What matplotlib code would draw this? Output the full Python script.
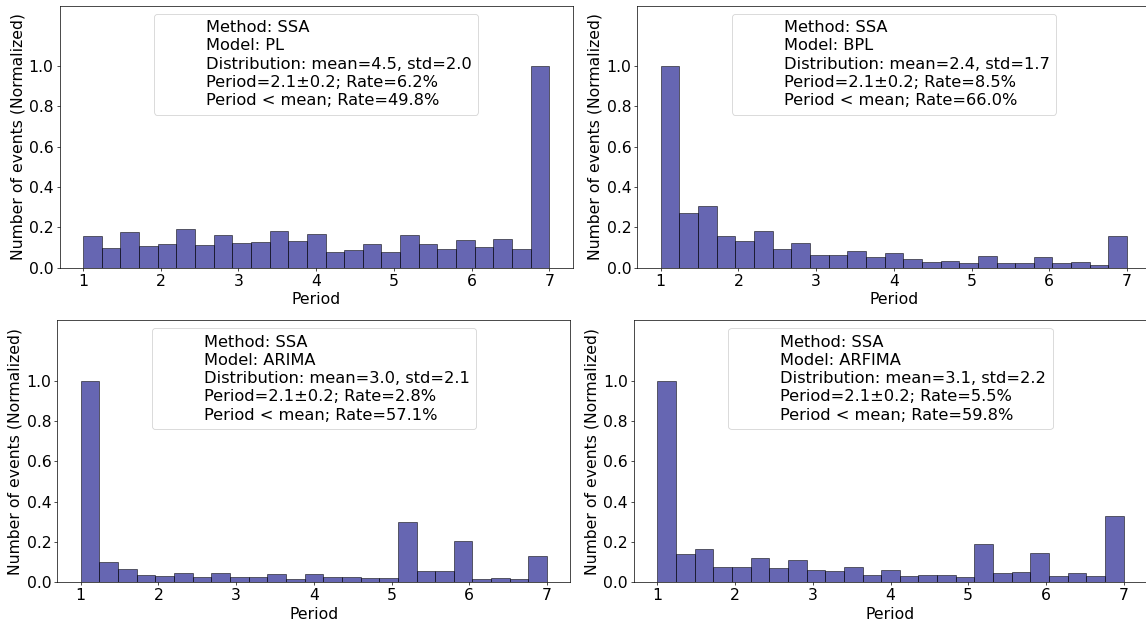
import numpy as np
import matplotlib
matplotlib.use("Agg")
import matplotlib.pyplot as plt
from matplotlib.lines import Line2D

# bin edges of the period histograms (25 bins between 1 and 7)
bin_edges = np.linspace(1, 7, 26)

# normalised counts per bin
pl_counts = [0.155, 0.099, 0.175, 0.109, 0.117, 0.193, 0.112, 0.164, 0.124, 0.126,
             0.182, 0.131, 0.167, 0.079, 0.088, 0.116, 0.079, 0.160, 0.117, 0.093,
             0.139, 0.102, 0.140, 0.094, 1.0]
bpl_counts = [1.0, 0.273, 0.306, 0.155, 0.132, 0.180, 0.091, 0.124, 0.063, 0.063,
              0.083, 0.051, 0.073, 0.041, 0.028, 0.031, 0.023, 0.056, 0.023, 0.023,
              0.055, 0.021, 0.026, 0.012, 0.155]
arima_counts = [1.0, 0.099, 0.068, 0.036, 0.033, 0.045, 0.028, 0.045, 0.025, 0.028,
                0.041, 0.018, 0.041, 0.025, 0.028, 0.020, 0.020, 0.300, 0.058, 0.054,
                0.205, 0.017, 0.020, 0.015, 0.129]
arfima_counts = [1.0, 0.142, 0.167, 0.076, 0.078, 0.122, 0.071, 0.109, 0.061, 0.056,
                 0.076, 0.038, 0.061, 0.030, 0.036, 0.035, 0.026, 0.188, 0.046, 0.050,
                 0.144, 0.031, 0.048, 0.033, 0.327]

models = ["PL", "BPL", "ARIMA", "ARFIMA"]
dist_means = [4.5, 2.4, 3.0, 3.1]
dist_stds = [2.0, 1.7, 2.1, 2.2]
period_rates = [6.2, 8.5, 2.8, 5.5]
below_mean_rates = [49.8, 66.0, 57.1, 59.8]
all_counts = [pl_counts, bpl_counts, arima_counts, arfima_counts]

W, H = 1146, 625
DPI = 62.5
fig = plt.figure(figsize=(W / DPI, H / DPI), dpi=DPI)

# axes boxes in pixels: left, top, right, bottom
boxes = [(59.7, 5.5, 572.7, 267.7),
         (637.4, 5.5, 1150.4, 267.7),
         (57.4, 320.0, 570.4, 582.3),
         (634.0, 320.0, 1147.0, 582.3)]

for box, model, mean, std, rate, rate2, counts in zip(
        boxes, models, dist_means, dist_stds, period_rates, below_mean_rates, all_counts):
    l, t, r, b = box
    ax = fig.add_axes([l / W, 1 - b / H, (r - l) / W, (b - t) / H])
    ax.bar(bin_edges[:-1], counts, width=np.diff(bin_edges), align="edge",
           color="navy", alpha=0.6, edgecolor="black")
    ax.set_xlim(0.7, 7.3)
    ax.set_ylim(0, 1.3)
    ax.set_yticks([0.0, 0.2, 0.4, 0.6, 0.8, 1.0])
    ax.tick_params(labelsize=18)
    ax.set_xlabel("Period", fontsize=18)
    ax.set_ylabel("Number of events (Normalized)", fontsize=18)

    labels = ["Method: SSA",
              f"Model: {model}",
              f"Distribution: mean={mean}, std={std}",
              f"Period=2.1±0.2; Rate={rate}%",
              f"Period < mean; Rate={rate2}%"]
    handles = [Line2D([], [], linestyle="none") for _ in labels]
    ax.legend(handles, labels, loc="upper center", fontsize=18.7, labelspacing=0.2)

fig.savefig("out.png", dpi=DPI)
